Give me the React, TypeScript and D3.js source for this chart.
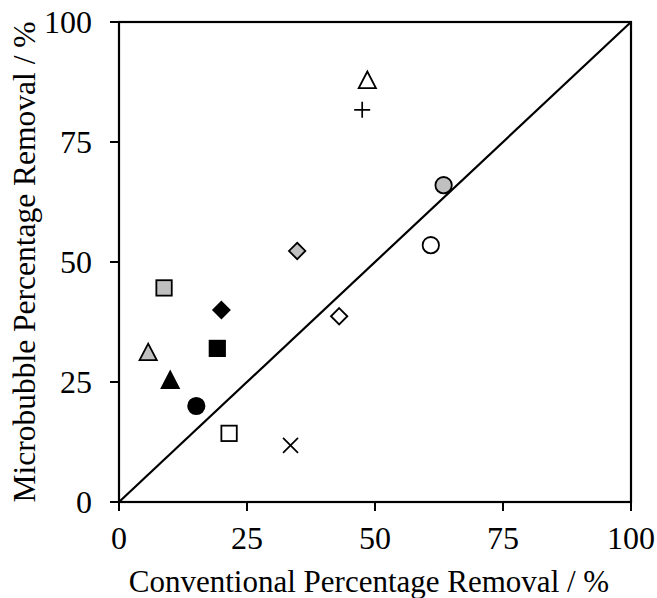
import React from "react";
import * as d3 from "d3";

type Shape = "square" | "circle" | "diamond" | "triangle" | "plus" | "cross";
type Fill = "black" | "gray" | "white" | "none";

// Conventional (x) vs microbubble (y) percentage removal for each species
const conventional = [48.5, 47.5, 63.4, 60.9, 34.8, 8.8, 20.0, 43.0, 19.2, 5.7, 10.0, 15.1, 21.5, 33.5];
const microbubble = [87.7, 81.7, 66.0, 53.5, 52.3, 44.6, 40.0, 38.7, 32.0, 31.0, 25.2, 20.0, 14.3, 11.8];
const shapes: Shape[] = ["triangle", "plus", "circle", "circle", "diamond", "square", "diamond", "diamond", "square", "triangle", "triangle", "circle", "square", "cross"];
const fills: Fill[] = ["white", "none", "gray", "white", "gray", "gray", "black", "white", "black", "gray", "black", "black", "white", "none"];

const xTicks = [0, 25, 50, 75, 100];
const yTicks = [0, 25, 50, 75, 100];

const fillColor: Record<Fill, string> = {
  black: "#000000",
  gray: "#c0c0c0",
  white: "#ffffff",
  none: "none",
};

const W = 657;
const H = 598;
const left = 119;
const right = 631;
const top = 22;
const bottom = 502;

const serif = { fontFamily: "Liberation Serif, Times New Roman, DejaVu Serif, serif" };

export default function App() {
  const x = d3.scaleLinear().domain([0, 100]).range([left, right]);
  const y = d3.scaleLinear().domain([0, 100]).range([bottom, top]);

  const marker = (i: number) => {
    const cx = x(conventional[i]);
    const cy = y(microbubble[i]);
    const f = fillColor[fills[i]];
    const common = { stroke: "#000", strokeWidth: 1.8, fill: f };
    switch (shapes[i]) {
      case "square":
        return <rect key={i} x={cx - 7.7} y={cy - 7.7} width={15.4} height={15.4} {...common} />;
      case "circle":
        return <circle key={i} cx={cx} cy={cy} r={8.2} {...common} />;
      case "diamond":
        return <path key={i} d={`M${cx},${cy - 8.2}L${cx + 8.2},${cy}L${cx},${cy + 8.2}L${cx - 8.2},${cy}Z`} {...common} />;
      case "triangle":
        return <path key={i} d={`M${cx},${cy - 9.5}L${cx + 8.6},${cy + 7}L${cx - 8.6},${cy + 7}Z`} {...common} />;
      case "plus":
        return <path key={i} d={`M${cx - 8},${cy}H${cx + 8}M${cx},${cy - 8}V${cy + 8}`} stroke="#000" strokeWidth={1.7} fill="none" />;
      case "cross":
        return <path key={i} d={`M${cx - 7.5},${cy - 7.5}L${cx + 7.5},${cy + 7.5}M${cx + 7.5},${cy - 7.5}L${cx - 7.5},${cy + 7.5}`} stroke="#000" strokeWidth={1.7} fill="none" />;
    }
  };

  return (
    <svg width={W} height={H} style={{ position: "absolute", left: 0, top: 0, background: "#fff" }}>
      <rect width={W} height={H} fill="#fff" />
      {/* 1:1 reference line */}
      <line x1={x(0)} y1={y(0)} x2={x(100)} y2={y(100)} stroke="#000" strokeWidth={2.2} />
      {/* frame */}
      <rect x={left} y={top} width={right - left} height={bottom - top} fill="none" stroke="#000" strokeWidth={2.2} />
      {xTicks.map((t) => (
        <g key={"x" + t}>
          <line x1={x(t)} x2={x(t)} y1={bottom} y2={bottom + 9} stroke="#000" strokeWidth={2} />
          <text x={x(t)} y={549} textAnchor="middle" style={serif} fontSize={32}>{t}</text>
        </g>
      ))}
      {yTicks.map((t) => (
        <g key={"y" + t}>
          <line x1={left - 9} x2={left} y1={y(t)} y2={y(t)} stroke="#000" strokeWidth={2} />
          <text x={92} y={y(t) + 11} textAnchor="end" style={serif} fontSize={32}>{t}</text>
        </g>
      ))}
      {conventional.map((_, i) => marker(i))}
      <text x={369} y={592} textAnchor="middle" style={serif} fontSize={31}>
        Conventional Percentage Removal / %
      </text>
      <text transform={`translate(35,${(top + bottom) / 2}) rotate(-90)`} textAnchor="middle" style={serif} fontSize={31.5}>
        Microbubble Percentage Removal / %
      </text>
    </svg>
  );
}
